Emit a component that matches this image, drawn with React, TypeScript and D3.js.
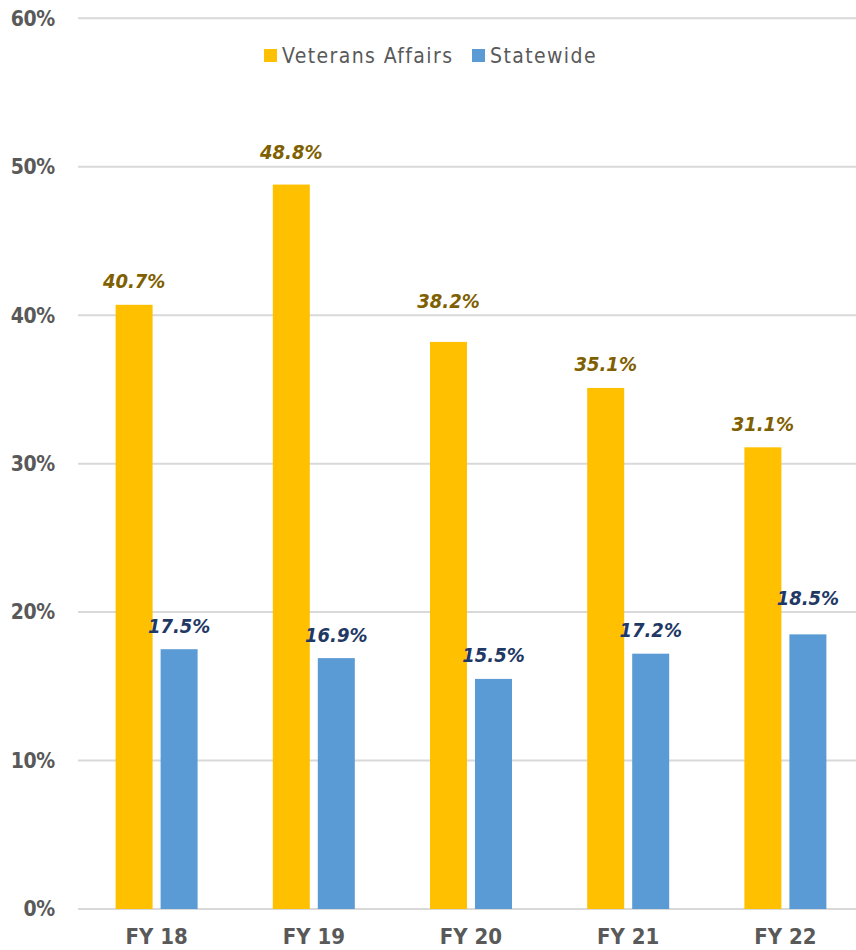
import React from "react";
import * as d3 from "d3";

const categories = ["FY 18", "FY 19", "FY 20", "FY 21", "FY 22"];
const seriesNames = ["Veterans Affairs", "Statewide"];
const veteransAffairs = [40.7, 48.8, 38.2, 35.1, 31.1];
const statewide = [17.5, 16.9, 15.5, 17.2, 18.5];
const yTicks = [0, 10, 20, 30, 40, 50, 60];

const COLORS = ["#FFC000", "#5B9BD5"];
const LABEL_COLORS = ["#7F6000", "#1F3864"];
const FONT = "'DejaVu Sans Condensed', 'DejaVu Sans', sans-serif";

export default function App() {
  const W = 856;
  const H = 950;
  const y = d3.scaleLinear().domain([0, 60]).range([909, 18.3]);
  const x0 = d3.scaleBand<string>().domain(categories).range([78, 864]).padding(0);
  const step = x0.step();
  const x1 = d3
    .scaleBand<string>()
    .domain(seriesNames)
    .range([step / 2 - 41, step / 2 + 41])
    .paddingInner(8 / 45)
    .paddingOuter(0);
  const series = [veteransAffairs, statewide];
  const gridYs = yTicks.map((t) => y(t));

  const labelBaseline = (v: number) => {
    let b = y(v) - 16.5;
    for (const g of gridYs) {
      if (g > b - 16 && g < b + 3) {
        b = g - 7.5;
      }
    }
    return b;
  };

  return (
    <svg
      width={W}
      height={H}
      style={{ position: "absolute", left: 0, top: 0, background: "#fff" }}
      fontFamily={FONT}
    >
      {yTicks.map((t) => (
        <g key={t}>
          <line x1={78} x2={W} y1={y(t)} y2={y(t)} stroke="#D9D9D9" strokeWidth={2} />
          <text
            x={55}
            y={y(t)}
            dy="0.35em"
            textAnchor="end"
            fontSize={21}
            fontWeight="bold"
            letterSpacing={-0.3}
            fill="#595959"
          >
            {t}%
          </text>
        </g>
      ))}
      {categories.map((c, i) => (
        <g key={c} transform={`translate(${x0(c)},0)`}>
          {seriesNames.map((s, j) => {
            const v = series[j][i];
            const bx = x1(s)!;
            return (
              <g key={s}>
                <rect x={bx} y={y(v)} width={x1.bandwidth()} height={y(0) - y(v)} fill={COLORS[j]} />
                <text
                  x={bx + x1.bandwidth() / 2}
                  y={labelBaseline(v)}
                  textAnchor="middle"
                  fontSize={20}
                  fontWeight="bold"
                  fontStyle="italic"
                  fill={LABEL_COLORS[j]}
                >
                  {v.toFixed(1)}%
                </text>
              </g>
            );
          })}
          <text
            x={step / 2}
            y={944}
            textAnchor="middle"
            fontSize={22}
            fontWeight="bold"
            fill="#595959"
          >
            {c}
          </text>
        </g>
      ))}
      <g>
        <rect x={264} y={49} width={13} height={13} fill={COLORS[0]} />
        <text x={282} y={62.5} fontSize={21} letterSpacing={1.4} fill="#595959">
          {seriesNames[0]}
        </text>
        <rect x={472} y={49} width={13} height={13} fill={COLORS[1]} />
        <text x={490} y={62.5} fontSize={21} letterSpacing={1.4} fill="#595959">
          {seriesNames[1]}
        </text>
      </g>
    </svg>
  );
}
